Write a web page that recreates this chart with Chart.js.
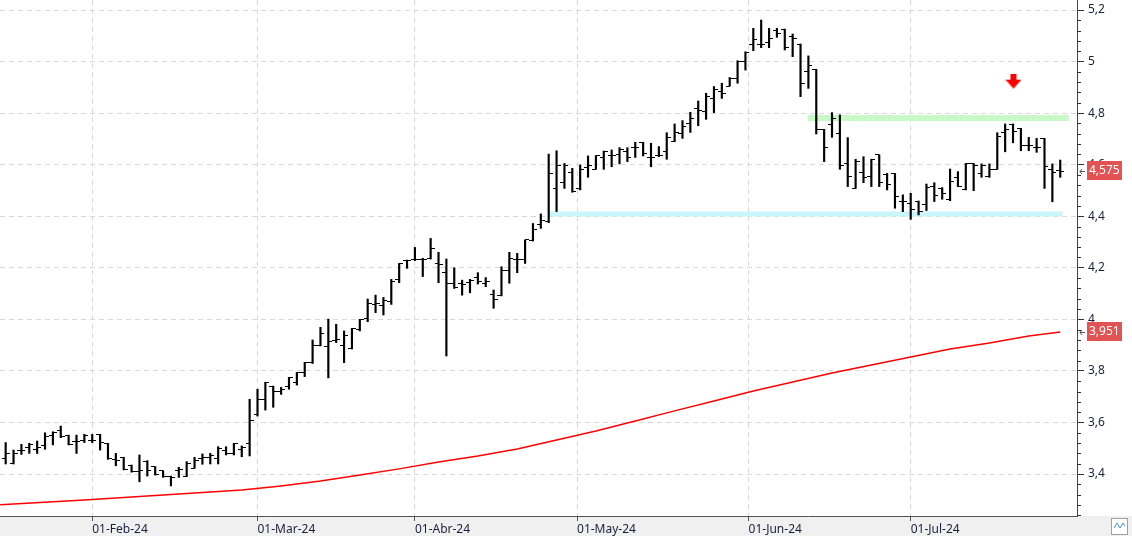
<!DOCTYPE html>
<html>
<head>
<meta charset="utf-8">
<title>Precio diario</title>
<script src="https://cdn.jsdelivr.net/npm/chart.js@4.4.1/dist/chart.umd.min.js"></script>
<style>
  html, body { margin: 0; padding: 0; background: #fff; }
  #wrap { width: 1132px; height: 538px; }
</style>
</head>
<body>
<div id="wrap"><canvas id="chart" width="1132" height="538"></canvas></div>
<script>
// trading days shown, month by month
const janDays = [17, 18, 19, 22, 23, 24, 25, 26, 29, 30, 31];
const febDays = [1, 2, 5, 6, 7, 8, 9, 12, 13, 14, 15, 16, 19, 20, 21, 22, 23, 26, 27, 28, 29];
const marDays = [1, 4, 5, 6, 7, 8, 11, 12, 13, 14, 15, 18, 19, 20, 21, 22, 25, 26, 27, 28];
const aprDays = [2, 3, 4, 5, 8, 9, 10, 11, 12, 15, 16, 17, 18, 19, 22, 23, 24, 25, 26, 29, 30];
const mayDays = [2, 3, 6, 7, 8, 9, 10, 13, 14, 15, 16, 17, 20, 21, 22, 23, 24, 27, 28, 29, 30, 31];
const junDays = [3, 4, 5, 6, 7, 10, 11, 12, 13, 14, 17, 18, 19, 20, 21, 24, 25, 26, 27, 28];
const julDays = [1, 2, 3, 4, 5, 8, 9, 10, 11, 12, 15, 16, 17, 18, 19, 22, 23, 24, 25, 26];

const opens = [
  3.461, 3.442, 3.491, 3.502, 3.496, 3.510, 3.548, 3.568, 3.549, 3.526, 3.532,
  3.532, 3.554, 3.519, 3.455, 3.465, 3.435, 3.409, 3.448, 3.429, 3.413, 3.390, 3.412, 3.390, 3.422, 3.461, 3.464, 3.461, 3.493, 3.480, 3.496, 3.519,
  3.629, 3.690, 3.741, 3.722, 3.741, 3.756, 3.794, 3.832, 3.898, 3.894, 3.917, 3.898, 3.888, 3.959, 4.004, 4.056, 4.052, 4.071, 4.155, 4.228,
  4.234, 4.234, 4.237, 4.217, 4.182, 4.140, 4.140, 4.142, 4.161, 4.140, 4.098, 4.091, 4.191, 4.234, 4.234, 4.304, 4.368, 4.379, 4.508, 4.531, 4.570,
  4.508, 4.588, 4.582, 4.627, 4.634, 4.641, 4.653, 4.667, 4.687, 4.627, 4.634, 4.650, 4.689, 4.722, 4.758, 4.819, 4.808, 4.857, 4.883, 4.905, 4.935, 5.000,
  5.068, 5.067, 5.075, 5.122, 5.126, 5.097, 5.068, 4.963, 4.970, 4.735, 4.754, 4.722, 4.603, 4.508, 4.570, 4.554, 4.638, 4.563, 4.566, 4.459,
  4.448, 4.459, 4.444, 4.515, 4.508, 4.463, 4.551, 4.502, 4.603, 4.566, 4.554, 4.582, 4.724, 4.754, 4.741, 4.673, 4.667, 4.702, 4.582, 4.578
];
const highs = [
  3.522, 3.493, 3.515, 3.519, 3.528, 3.560, 3.564, 3.586, 3.551, 3.551, 3.554,
  3.554, 3.554, 3.519, 3.480, 3.465, 3.435, 3.474, 3.452, 3.429, 3.413, 3.392, 3.426, 3.448, 3.465, 3.478, 3.480, 3.506, 3.506, 3.519, 3.509, 3.690,
  3.729, 3.756, 3.741, 3.736, 3.775, 3.794, 3.833, 3.920, 3.969, 4.001, 3.981, 3.955, 3.965, 4.000, 4.079, 4.094, 4.085, 4.155, 4.217, 4.230,
  4.279, 4.237, 4.314, 4.260, 4.234, 4.200, 4.152, 4.155, 4.181, 4.162, 4.114, 4.204, 4.260, 4.256, 4.308, 4.372, 4.409, 4.641, 4.654, 4.605, 4.586,
  4.599, 4.634, 4.635, 4.653, 4.657, 4.666, 4.666, 4.687, 4.687, 4.683, 4.670, 4.724, 4.758, 4.771, 4.803, 4.847, 4.877, 4.903, 4.916, 4.938, 5.003, 5.038,
  5.129, 5.161, 5.129, 5.129, 5.126, 5.107, 5.068, 5.022, 4.970, 4.737, 4.802, 4.793, 4.705, 4.621, 4.631, 4.621, 4.638, 4.566, 4.566, 4.483,
  4.489, 4.459, 4.525, 4.530, 4.511, 4.583, 4.573, 4.605, 4.605, 4.603, 4.603, 4.724, 4.758, 4.758, 4.741, 4.706, 4.702, 4.702, 4.603, 4.618
];
const lows = [
  3.439, 3.439, 3.476, 3.480, 3.480, 3.496, 3.513, 3.541, 3.513, 3.480, 3.522,
  3.522, 3.493, 3.457, 3.432, 3.416, 3.407, 3.370, 3.392, 3.396, 3.387, 3.354, 3.387, 3.390, 3.422, 3.438, 3.439, 3.439, 3.474, 3.474, 3.467, 3.470,
  3.625, 3.648, 3.659, 3.709, 3.729, 3.745, 3.778, 3.829, 3.897, 3.773, 3.910, 3.832, 3.885, 3.955, 3.991, 4.026, 4.017, 4.058, 4.142, 4.198,
  4.228, 4.166, 4.234, 4.142, 3.858, 4.120, 4.094, 4.103, 4.137, 4.127, 4.043, 4.091, 4.140, 4.181, 4.217, 4.304, 4.353, 4.375, 4.418, 4.508, 4.493,
  4.502, 4.551, 4.582, 4.582, 4.592, 4.603, 4.612, 4.628, 4.634, 4.592, 4.631, 4.621, 4.689, 4.702, 4.725, 4.751, 4.776, 4.802, 4.857, 4.905, 4.916, 4.967,
  5.042, 5.054, 5.054, 5.094, 5.045, 5.019, 4.864, 4.896, 4.719, 4.612, 4.706, 4.582, 4.515, 4.508, 4.530, 4.515, 4.515, 4.502, 4.431, 4.418,
  4.388, 4.405, 4.422, 4.457, 4.466, 4.460, 4.515, 4.502, 4.499, 4.551, 4.551, 4.582, 4.650, 4.685, 4.654, 4.654, 4.648, 4.508, 4.456, 4.551
];
const closes = [
  3.480, 3.480, 3.493, 3.515, 3.502, 3.545, 3.560, 3.545, 3.515, 3.528, 3.551,
  3.532, 3.522, 3.461, 3.452, 3.416, 3.409, 3.413, 3.413, 3.400, 3.392, 3.387, 3.418, 3.442, 3.451, 3.465, 3.470, 3.500, 3.480, 3.519, 3.504, 3.607,
  3.690, 3.756, 3.722, 3.726, 3.775, 3.794, 3.833, 3.898, 3.946, 3.913, 3.920, 3.939, 3.965, 4.000, 4.062, 4.062, 4.075, 4.146, 4.217, 4.228,
  4.234, 4.234, 4.273, 4.211, 4.140, 4.123, 4.137, 4.150, 4.146, 4.146, 4.078, 4.191, 4.237, 4.234, 4.308, 4.349, 4.383, 4.564, 4.596, 4.596, 4.495,
  4.582, 4.595, 4.634, 4.650, 4.634, 4.660, 4.627, 4.667, 4.644, 4.627, 4.634, 4.705, 4.724, 4.750, 4.780, 4.812, 4.864, 4.892, 4.877, 4.935, 5.000, 5.034,
  5.086, 5.067, 5.090, 5.107, 5.055, 5.088, 4.916, 4.983, 4.735, 4.666, 4.780, 4.596, 4.554, 4.614, 4.550, 4.621, 4.532, 4.524, 4.476, 4.459,
  4.427, 4.418, 4.511, 4.479, 4.489, 4.534, 4.515, 4.605, 4.595, 4.596, 4.580, 4.711, 4.735, 4.728, 4.673, 4.673, 4.667, 4.592, 4.570, 4.575
];

// red moving average, read at every 5th bar
const maIndex = [-0.7, 10, 20, 30, 35, 40, 45, 50, 55, 60, 65, 70, 75, 80, 85, 90, 95, 100, 105, 110, 115, 120, 125, 130, 134];
const maValues = [3.281, 3.299, 3.319, 3.338, 3.354, 3.373, 3.396, 3.420, 3.447, 3.470, 3.497, 3.532, 3.567, 3.606, 3.645,
  3.683, 3.722, 3.757, 3.792, 3.823, 3.854, 3.885, 3.908, 3.935, 3.951];

// horizontal zones and marker
const resistLevel = 4.781, resistFrom = 101.9, resistTo = 135.1;
const supportLevel = 4.409, supportFrom = 69.0, supportTo = 134.3;
const arrowX = 128.06, arrowY = 4.922;

const monthTicks = [11, 32, 52, 72.6, 94.4, 115];
const monthLabels = ['01-Feb-24', '01-Mar-24', '01-Abr-24', '01-May-24', '01-Jun-24', '01-Jul-24'];
const priceTicks = [3.4, 3.6, 3.8, 4, 4.2, 4.4, 4.6, 4.8, 5, 5.2];

const dates = [].concat(
  janDays.map(d => d + '-Jan-24'), febDays.map(d => d + '-Feb-24'), marDays.map(d => d + '-Mar-24'),
  aprDays.map(d => d + '-Abr-24'), mayDays.map(d => d + '-May-24'), junDays.map(d => d + '-Jun-24'),
  julDays.map(d => d + '-Jul-24'));

const fmt = v => String(Number(v.toFixed(3))).replace('.', ',');
const FAMILY = "'Noto Sans', 'DejaVu Sans', sans-serif";

function tickImage(side) {
  const c = document.createElement('canvas');
  c.width = 8; c.height = 1;
  const g = c.getContext('2d');
  g.fillStyle = '#000';
  g.fillRect(side === 'left' ? 0 : 4, 0, 4, 1);
  return c;
}

function arrowImage() {
  const c = document.createElement('canvas');
  c.width = 16; c.height = 16;
  const g = c.getContext('2d');
  g.fillStyle = '#ff0000';
  g.fillRect(5, 0, 6, 6);
  g.beginPath();
  g.moveTo(0, 6); g.lineTo(16, 6); g.lineTo(8, 15); g.closePath();
  g.fill();
  return c;
}

const chromePlugin = {
  id: 'chrome',
  beforeDraw(chart) {
    const { ctx, chartArea, width, height } = chart;
    ctx.save();
    ctx.fillStyle = '#f0f0f0';
    ctx.fillRect(0, chartArea.bottom, width, height - chartArea.bottom - 2);
    ctx.restore();
  },
  afterDraw(chart) {
    const { ctx, chartArea, width } = chart;
    const ys = chart.scales.y;
    ctx.save();
    // minor ticks on the price axis
    ctx.strokeStyle = '#333';
    ctx.lineWidth = 1;
    ctx.beginPath();
    for (let k = 0; k <= 50; k++) {
      const v = 3.24 + k * 0.04;
      if (v > ys.max) break;
      if (Math.abs(v * 5 - Math.round(v * 5)) < 1e-6) continue;
      const py = Math.round(ys.getPixelForValue(v)) + 0.5;
      ctx.moveTo(chartArea.right, py);
      ctx.lineTo(chartArea.right + 4, py);
    }
    ctx.stroke();

    // last value tags
    const tags = [closes[closes.length - 1], maValues[maValues.length - 1]];
    tags.forEach(v => {
      const py = Math.round(ys.getPixelForValue(v));
      const bx = chartArea.right + 10;
      ctx.fillStyle = '#e45353';
      ctx.fillRect(bx, py - 10, 35, 19);
      ctx.fillStyle = '#fff';
      ctx.font = '12px ' + FAMILY;
      ctx.textBaseline = 'middle';
      ctx.textAlign = 'left';
      ctx.fillText(fmt(v), bx + 2, py);
      ctx.strokeStyle = '#555';
      ctx.beginPath();
      ctx.moveTo(chartArea.right + 3, py + 0.5);
      ctx.lineTo(chartArea.right + 8, py + 0.5);
      ctx.moveTo(chartArea.right + 5, py - 2);
      ctx.lineTo(chartArea.right + 3, py + 0.5);
      ctx.lineTo(chartArea.right + 5, py + 3);
      ctx.stroke();
    });

    // small toolbar button bottom right
    ctx.fillStyle = '#fff';
    ctx.fillRect(width - 21, chartArea.bottom + 2, 17, 17);
    ctx.strokeStyle = '#a0a0a0';
    ctx.strokeRect(width - 20.5, chartArea.bottom + 2.5, 16, 16);
    ctx.strokeStyle = '#4a90d9';
    ctx.beginPath();
    ctx.moveTo(width - 18, chartArea.bottom + 12);
    ctx.lineTo(width - 15, chartArea.bottom + 7);
    ctx.lineTo(width - 12, chartArea.bottom + 12);
    ctx.lineTo(width - 9, chartArea.bottom + 7);
    ctx.lineTo(width - 7, chartArea.bottom + 10);
    ctx.stroke();
    ctx.restore();
  }
};

const ctx = document.getElementById('chart');
new Chart(ctx, {
  type: 'bar',
  data: {
    datasets: [
      {
        type: 'line',
        label: 'Soporte',
        data: [{ x: supportFrom, y: supportLevel }, { x: supportTo, y: supportLevel }],
        borderColor: '#c9f6fb',
        borderWidth: 5,
        pointRadius: 0,
        order: 10
      },
      {
        type: 'line',
        label: 'Resistencia',
        data: [{ x: resistFrom, y: resistLevel }, { x: resistTo, y: resistLevel }],
        borderColor: '#c9f9c6',
        borderWidth: 6,
        pointRadius: 0,
        order: 10
      },
      {
        type: 'line',
        label: 'Media',
        data: maIndex.map((x, i) => ({ x: x, y: maValues[i] })),
        borderColor: '#ff0000',
        borderWidth: 1.5,
        pointRadius: 0,
        tension: 0,
        order: 5
      },
      {
        type: 'bar',
        label: 'Rango',
        data: dates.map((d, i) => ({ x: i, y: [lows[i], highs[i]] })),
        backgroundColor: '#000',
        borderWidth: 0,
        barThickness: 1.5,
        grouped: false,
        order: 2
      },
      {
        type: 'line',
        label: 'Apertura',
        data: dates.map((d, i) => ({ x: i, y: opens[i] })),
        showLine: false,
        pointStyle: tickImage('left'),
        pointRadius: 3,
        order: 1
      },
      {
        type: 'line',
        label: 'Cierre',
        data: dates.map((d, i) => ({ x: i, y: closes[i] })),
        showLine: false,
        pointStyle: tickImage('right'),
        pointRadius: 3,
        order: 1
      },
      {
        type: 'line',
        label: 'Senal',
        data: [{ x: arrowX, y: arrowY }],
        showLine: false,
        pointStyle: arrowImage(),
        pointRadius: 6,
        order: 0
      }
    ]
  },
  options: {
    responsive: false,
    devicePixelRatio: 1,
    animation: false,
    events: [],
    layout: { padding: 0, autoPadding: false },
    plugins: {
      legend: { display: false },
      tooltip: { enabled: false }
    },
    scales: {
      x: {
        type: 'linear',
        min: -0.72,
        max: 136.13,
        offset: false,
        afterBuildTicks: s => { s.ticks = monthTicks.map(v => ({ value: v })); },
        afterFit: s => { s.height = 22; s.paddingLeft = 0; s.paddingRight = 0; },
        ticks: {
          autoSkip: false,
          maxRotation: 0,
          align: 'start',
          padding: 1,
          color: '#1e1e3c',
          font: { family: FAMILY, size: 12 },
          callback: (v, i) => monthLabels[i]
        },
        grid: { offset: false, color: '#d9d9d9', tickColor: '#555', tickLength: 5 },
        border: { color: '#555', dash: [5, 4] }
      },
      y: {
        type: 'linear',
        position: 'right',
        min: 3.2372,
        max: 5.2388,
        afterBuildTicks: s => { s.ticks = priceTicks.map(v => ({ value: v })); },
        afterFit: s => { s.width = 55; s.paddingTop = 0; s.paddingBottom = 0; },
        ticks: {
          padding: 4,
          color: '#1e1e3c',
          font: { family: FAMILY, size: 12, lineHeight: 0.05 },
          callback: v => fmt(v)
        },
        grid: { color: '#d9d9d9', tickColor: '#333', tickLength: 7 },
        border: { color: '#444', dash: [5, 4] }
      }
    }
  },
  plugins: [chromePlugin]
});
</script>
</body>
</html>
